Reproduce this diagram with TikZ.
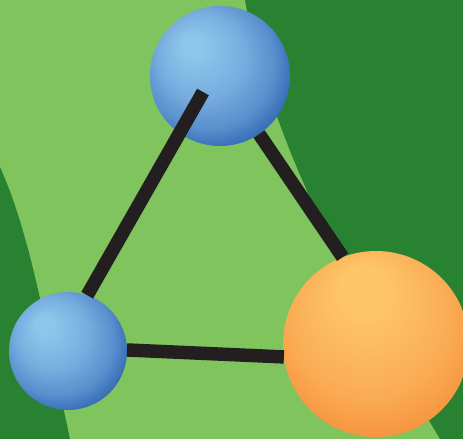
\documentclass[tikz,border=0pt]{standalone}
\usepackage{xcolor}
\usepackage{tikz}
\definecolor{FieldLight}{HTML}{80C45E}
\definecolor{FieldDark}{HTML}{288232}
\definecolor{BondBlack}{HTML}{231F20}
\definecolor{BlueHi}{HTML}{8DC5EB}
\definecolor{BlueLight}{HTML}{78AEDF}
\definecolor{BlueMid}{HTML}{588ECC}
\definecolor{BlueEdge}{HTML}{2A62AF}
\definecolor{OrangeHi}{HTML}{FEC667}
\definecolor{OrangeMid}{HTML}{FAAB53}
\definecolor{OrangeEdge}{HTML}{F6913D}
\pgfdeclareradialshading{BlueBall}{\pgfpoint{-11bp}{12bp}}{color(0bp)=(BlueHi); color(4bp)=(BlueHi); color(15bp)=(BlueLight); color(24bp)=(BlueMid); color(31bp)=(BlueEdge); color(40bp)=(BlueEdge)}
\pgfdeclareradialshading{OrangeBall}{\pgfpoint{-4bp}{17bp}}{color(0bp)=(OrangeHi); color(6bp)=(OrangeHi); color(22bp)=(OrangeMid); color(31bp)=(OrangeEdge); color(40bp)=(OrangeEdge)}

\begin{document}
\begin{tikzpicture}[x=0.03cm, y=0.03cm,
        ball/.style={circle, inner sep=0pt, outer sep=0pt, shade},
        bond/.style={BondBlack, line width=11.5pt}]
        \useasboundingbox (0,0) rectangle (463,439);
        \clip (0,0) rectangle (463,439);
        % fields
        \fill[FieldLight] (0,0) rectangle (463,439);
        \fill[FieldDark] (245,439) .. controls (270,300) and (350,150) .. (440,0) -- (463,0) -- (463,439) -- cycle;
        \fill[FieldDark] (0,272) .. controls (30,205) and (44,120) .. (70,0) -- (0,0) -- cycle;
        % balls
        \node[ball, shading=BlueBall, minimum size=4.2cm] (top) at (220,363) {};
        \node[ball, shading=BlueBall, minimum size=3.54cm] (lft) at (68,88) {};
        \node[ball, shading=OrangeBall, minimum size=5.58cm] (big) at (376,95) {};
        \coordinate (tip) at (203,347);
        % bonds
        \draw[bond] (top.-56) -- (big.111);
        \draw[bond] (lft.1) -- (big.188);
        \draw[bond] (lft.71) -- (tip);
    \end{tikzpicture}
\end{document}
